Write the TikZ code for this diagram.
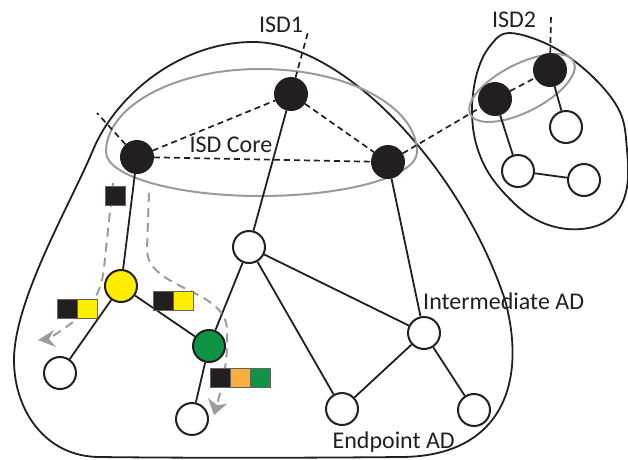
\documentclass[tikz,border=0pt]{standalone}
\usepackage{fontspec}
\setmainfont{Carlito}
\definecolor{ink}{HTML}{231F20}
\definecolor{rim}{HTML}{9A9A9A}
\definecolor{trail}{HTML}{9C9C9C}
\definecolor{hopY}{HTML}{FFED00}
\definecolor{hopO}{HTML}{F9AE40}
\definecolor{hopG}{HTML}{0F9345}
\begin{document}
\begin{tikzpicture}[x=1pt,y=-1pt,
  asnode/.style={circle, draw=ink, line width=2pt, minimum size=32pt, inner sep=0pt, fill=white},
  corenode/.style={asnode, fill=ink},
  link/.style={draw=ink, line width=1.8pt},
  peer/.style={draw=ink, line width=1.7pt, dash pattern=on 6pt off 4pt},
  region/.style={draw=ink, line width=1.8pt},
  coreline/.style={draw=rim, line width=2pt},
  route/.style={draw=trail, line width=2pt, dash pattern=on 9pt off 6pt},
  tiphead/.style={fill=trail},
  pkt/.style={draw=ink!70, line width=0.6pt, minimum width=20pt, minimum height=19pt,
    inner sep=0pt, anchor=north west},
  lbl/.style={font=\fontsize{24}{28}\selectfont, text=ink, inner sep=0pt}]
\useasboundingbox (0,0) rectangle (628,459);

% ISD 1 boundary
\path[region] (253,42) .. controls (345,42) and (462,170) .. (505,300)
  .. controls (528,385) and (500,457) .. (400,457)
  .. controls (300,458) and (180,458) .. (100,457)
  .. controls (45,457) and (14,410) .. (14,360)
  .. controls (14,300) and (70,205) .. (93,150)
  .. controls (116,95) and (180,42) .. (253,42) -- cycle;
% ISD 1 core
\path[coreline] (106,152) .. controls (106,106) and (175,69) .. (260,69)
  .. controls (347,69) and (417,106) .. (417,152)
  .. controls (417,176) and (347,196) .. (260,196)
  .. controls (175,196) and (106,176) .. (106,152) -- cycle;

% ISD 2 boundary and core
\path[region] plot[smooth cycle, tension=0.6] coordinates {
  (510,33) (553,47) (593,77) (620,112) (627,150) (627,187) (616,213)
  (593,227) (560,228) (527,214) (494,181) (477,147) (472,110) (477,73) (490,46)};
\path[coreline] (522,88) ellipse [x radius=58, y radius=24, rotate=27];

% core ASes
\node[corenode] (A) at (137,157) {};
\node[corenode] (B) at (291,94) {};
\node[corenode] (C) at (388,162) {};
\node[corenode] (D) at (495,99) {};
\node[corenode] (E) at (550,70) {};

% non-core ASes
\node[asnode] (m) at (249,247) {};
\node[asnode, fill=hopY] (y) at (121,286) {};
\node[asnode, fill=hopG] (g) at (209,346) {};
\node[asnode] (l1) at (60,373) {};
\node[asnode] (l2) at (192,419) {};
\node[asnode] (ep) at (342,409) {};
\node[asnode] (ia) at (424,333) {};
\node[asnode] (r1) at (474,410) {};
\node[asnode] (u1) at (566,127) {};
\node[asnode] (u2) at (518,171) {};
\node[asnode] (u3) at (584,180) {};

% free ends of external core links
\coordinate (tA) at (97,113);
\coordinate (tB) at (308,32);
\coordinate (tE) at (551,14);

% core links
\draw[peer] (A) -- (B);
\draw[peer] (A) -- (C);
\draw[peer] (B) -- (C);
\draw[peer] (C) -- (D);
\draw[peer] (D) -- (E);
\draw[peer] (A) -- (tA);
\draw[peer] (B) -- (tB);
\draw[peer] (E) -- (tE);

% parent-child links
\draw[link] (A) -- (y);
\draw[link] (y) -- (l1);
\draw[link] (y) -- (g);
\draw[link] (g) -- (l2);
\draw[link] (g) -- (m);
\draw[link] (B) -- (m);
\draw[link] (m) -- (ep);
\draw[link] (m) -- (ia);
\draw[link] (C) -- (ia);
\draw[link] (ia) -- (ep);
\draw[link] (ia) -- (r1);
\draw[link] (D) -- (u2);
\draw[link] (E) -- (u1);
\draw[link] (u2) -- (u3);

% beaconing paths: dashed bodies and notched heads
\coordinate (s1) at (113,183);
\coordinate (e1) at (38,340);
\coordinate (s2) at (149,193);
\coordinate (e2) at (214,415);
\draw[route] (s1) -- (104,268) .. controls (100,305) and (80,318) .. (50,338);
\fill[tiphead] (e1) -- (54,330) -- (49,339) -- (56,347) -- cycle;
\draw[route] (s2) -- (147,250) .. controls (148,290) and (226,288) .. (227,330)
  .. controls (228,365) and (222,385) .. (217,405);
\fill[tiphead] (e2) -- (208,398) -- (217,405) -- (227,404) -- cycle;

% beacons
\node[pkt, fill=ink] (p1) at (105,186) {};
\node[pkt, fill=ink] (p2a) at (57,299) {};
\node[pkt, fill=hopY] (p2b) at (77,299) {};
\node[pkt, fill=ink] (p3a) at (153,291) {};
\node[pkt, fill=hopY] (p3b) at (173,291) {};
\node[pkt, fill=ink] (p4a) at (210,368) {};
\node[pkt, fill=hopO] (p4b) at (230,368) {};
\node[pkt, fill=hopG] (p4c) at (250,368) {};

% labels
\node[lbl, anchor=base] (isd1) at (281,32) {ISD1};
\node[lbl, anchor=base] (isd2) at (514,27) {ISD2};
\node[lbl, anchor=base] (core) at (231,152) {ISD Core};
\node[lbl, anchor=base west] (inter) at (423,309) {Intermediate AD};
\node[lbl, anchor=base east] (endp) at (455,448) {Endpoint AD};
\end{tikzpicture}
\end{document}
